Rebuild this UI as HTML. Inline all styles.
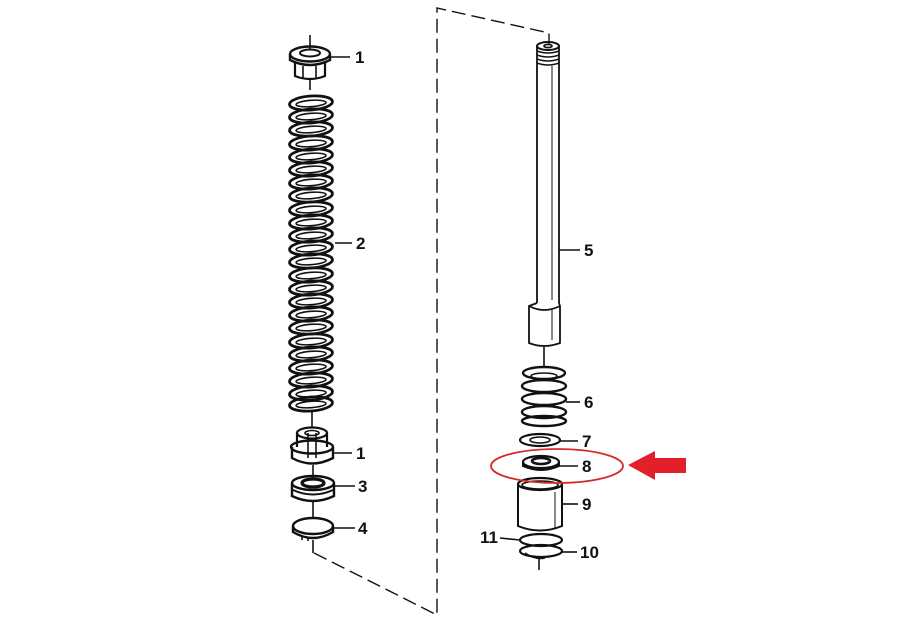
<!DOCTYPE html>
<html><head><meta charset="utf-8"><style>
html,body{margin:0;padding:0;background:#fff;}
svg{display:block}
text{font-family:"Liberation Sans",sans-serif;font-weight:bold;font-size:17px;fill:#111}
</style></head><body>
<svg width="900" height="637" viewBox="0 0 900 637" xmlns="http://www.w3.org/2000/svg">
<defs>
<g id="coil" fill="none" stroke="#111">
<ellipse cx="311" cy="0" rx="21.5" ry="7" stroke-width="2.8" transform="rotate(-4 311 0)"/>
<ellipse cx="311" cy="0.5" rx="15" ry="3.2" stroke-width="1.6" transform="rotate(-4 311 0)"/>
</g>
</defs>
<g fill="none" stroke="#111" stroke-width="1.6">
<path d="M314 553 L437 615 L437 8 L549 33 L549 45" stroke-dasharray="14 6" stroke-width="1.4"/>
<line x1="310" y1="35" x2="310" y2="50"/>
<line x1="310" y1="80" x2="310" y2="90"/>
<line x1="312" y1="410" x2="312" y2="428"/>
<line x1="313" y1="465" x2="313" y2="478"/>
<line x1="313" y1="502" x2="313" y2="517"/>
<!-- nut 1 top -->
<ellipse cx="310" cy="54" rx="20" ry="7.5" stroke-width="2.4"/>
<ellipse cx="310" cy="53" rx="10" ry="3.5" stroke-width="2"/>
<path d="M290 54 L290 60 Q310 70 330 60 L330 54" stroke-width="2.4"/>
<path d="M295 62 L295 76 Q310 82 325 76 L325 62" stroke-width="2.2"/>
<line x1="303" y1="66" x2="303" y2="78"/><line x1="316" y1="66" x2="316" y2="78"/>
<line x1="330" y1="57" x2="350" y2="57"/>
<line x1="335" y1="243" x2="352" y2="243"/>
<!-- nut 1 lower -->
<path d="M297 433 L297 447 M327 433 L327 447" stroke-width="2.2"/>
<ellipse cx="312" cy="433" rx="15" ry="5.5" stroke-width="2.2"/>
<ellipse cx="312" cy="433" rx="7" ry="2.5"/>
<line x1="308" y1="433" x2="308" y2="458"/><line x1="316" y1="433" x2="316" y2="458"/>
<path d="M292 447 L292 458 Q312 469 333 458 L333 447" stroke-width="2.4"/>
<ellipse cx="312" cy="447" rx="21" ry="6.5" stroke-width="2.4"/>
<line x1="333" y1="453" x2="352" y2="453"/>
<!-- part 3 -->
<ellipse cx="313" cy="483" rx="21" ry="7" stroke-width="2.4"/>
<ellipse cx="313" cy="483" rx="11" ry="4" stroke-width="3.2"/>
<path d="M292 483 L292 496 Q313 506 334 496 L334 483" stroke-width="2.4"/>
<path d="M293 490 Q313 499 333 490" stroke-width="2"/>
<line x1="334" y1="486" x2="355" y2="486"/>
<!-- part 4 ring -->
<ellipse cx="313" cy="526" rx="20" ry="8" stroke-width="2.4"/>
<path d="M293 526 L293 532 Q313 544 333 532 L333 526" stroke-width="2.4"/>
<path d="M302 537 L302 540 M308 537 L308 541"/>
<line x1="334" y1="528" x2="355" y2="528"/>
<line x1="313" y1="540" x2="313" y2="553"/>
<!-- tube 5 -->
<ellipse cx="548" cy="46" rx="11" ry="4" stroke-width="2"/>
<ellipse cx="548" cy="46" rx="4" ry="1.6"/>
<path d="M537 46 L537 303 M559 46 L559 303" stroke-width="1.8"/>
<path d="M537 51 Q548 55 559 51 M537 55 Q548 59 559 55 M537 59 Q548 63 559 59 M537 63 Q548 67 559 63" stroke-width="1.5"/>
<line x1="552" y1="66" x2="552" y2="300" stroke-width="1"/>
<path d="M529 306 Q544 314 560 306" stroke-width="1.8"/>
<path d="M537 303 L529 306 L529 343 Q544 349 560 343 L560 306 L559 303" stroke-width="1.8"/>
<line x1="552" y1="310" x2="552" y2="340" stroke-width="1"/>
<line x1="559" y1="250" x2="580" y2="250"/>
<line x1="544" y1="347" x2="544" y2="368"/>
<!-- spring 6 -->
<g stroke-width="2.4">
<ellipse cx="544" cy="373" rx="21" ry="6"/>
<ellipse cx="544" cy="386" rx="22" ry="6"/>
<ellipse cx="544" cy="399" rx="22" ry="6"/>
<ellipse cx="544" cy="412" rx="22" ry="6"/>
<ellipse cx="544" cy="421" rx="22" ry="5"/>
</g>
<ellipse cx="544" cy="376" rx="13" ry="3"/>
<line x1="566" y1="402" x2="580" y2="402"/>
<!-- washer 7 -->
<ellipse cx="540" cy="440" rx="20" ry="6" stroke-width="2.2"/>
<ellipse cx="540" cy="440" rx="10" ry="3"/>
<line x1="560" y1="441" x2="578" y2="441"/>
<!-- washer 8 -->
<ellipse cx="541" cy="462" rx="18" ry="6" stroke-width="2.2"/>
<ellipse cx="541" cy="461" rx="9" ry="3" stroke-width="2.6"/>
<path d="M523 462 L523 466 Q541 474 559 466 L559 462" stroke-width="2"/>
<line x1="559" y1="466" x2="578" y2="466"/>
<!-- cylinder 9 -->
<ellipse cx="540" cy="484" rx="22" ry="6" stroke-width="2.2"/>
<ellipse cx="540" cy="485" rx="18" ry="4"/>
<path d="M518 484 L518 526 Q540 535 562 526 L562 484" stroke-width="2"/>
<line x1="555" y1="492" x2="555" y2="528" stroke-width="1"/>
<line x1="562" y1="504" x2="578" y2="504"/>
<!-- ring 11 -->
<ellipse cx="541" cy="540" rx="21" ry="6" stroke-width="2.2"/>
<line x1="500" y1="538" x2="520" y2="540"/>
<!-- ring 10 -->
<ellipse cx="541" cy="551" rx="21" ry="6" stroke-width="2.2"/>
<path d="M525 553 Q535 560 545 558"/>
<line x1="562" y1="552" x2="577" y2="552"/>
<line x1="539" y1="558" x2="539" y2="570"/>
</g>
<use href="#coil" y="103"/><use href="#coil" y="116"/><use href="#coil" y="129"/><use href="#coil" y="143"/>
<use href="#coil" y="156"/><use href="#coil" y="169"/><use href="#coil" y="182"/><use href="#coil" y="195"/>
<use href="#coil" y="209"/><use href="#coil" y="222"/><use href="#coil" y="235"/><use href="#coil" y="248"/>
<use href="#coil" y="261"/><use href="#coil" y="275"/><use href="#coil" y="288"/><use href="#coil" y="301"/>
<use href="#coil" y="314"/><use href="#coil" y="327"/><use href="#coil" y="341"/><use href="#coil" y="354"/>
<use href="#coil" y="367"/><use href="#coil" y="380"/><use href="#coil" y="393"/><use href="#coil" y="404"/>
<ellipse cx="557" cy="466" rx="66" ry="17" fill="none" stroke="#d42a2a" stroke-width="1.8"/>
<polygon points="628,465 655,451 655,458 686,458 686,473 655,473 655,480" fill="#e3202a"/>
<text x="355" y="63">1</text>
<text x="356" y="249">2</text>
<text x="356" y="459">1</text>
<text x="358" y="492">3</text>
<text x="358" y="534">4</text>
<text x="584" y="256">5</text>
<text x="584" y="408">6</text>
<text x="582" y="447">7</text>
<text x="582" y="472">8</text>
<text x="582" y="510">9</text>
<text x="480" y="543">11</text>
<text x="580" y="558">10</text>
</svg>
</body></html>
